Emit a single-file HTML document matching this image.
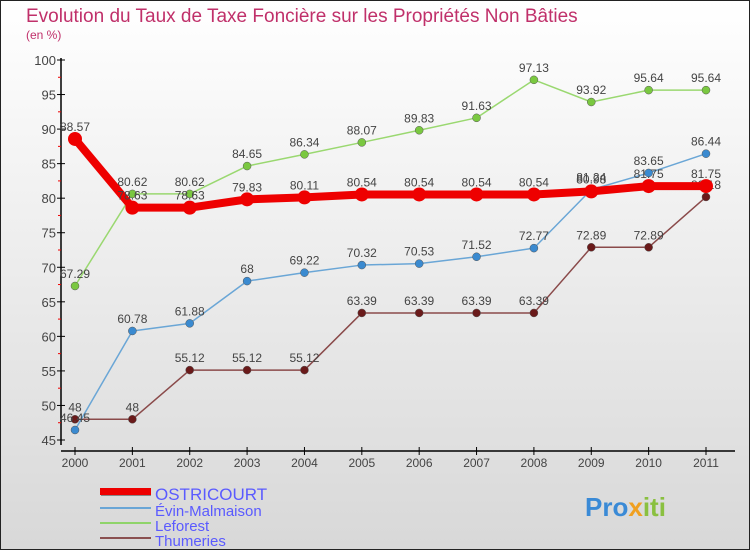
<!DOCTYPE html>
<html><head><meta charset="utf-8"><style>
body{margin:0;}
#wrap{width:750px;height:550px;position:relative;box-sizing:border-box;border:1px solid #222;background:linear-gradient(#ffffff,#d8d8d8);font-family:"Liberation Sans",sans-serif;overflow:hidden}
</style></head><body>
<div id="wrap">
<svg id="c" width="750" height="550" style="position:absolute;left:-1px;top:-1px">
<text x="26" y="22" font-size="19" fill="#c0306a">Evolution du Taux de Taxe Foncière sur les Propriétés Non Bâties</text>
<text x="26" y="39" font-size="12" fill="#c0306a">(en %)</text>
<g id="axes"></g><g id="series"></g>
<g id="legend">
<rect x="101" y="489" width="50" height="7" fill="#888"/>
<rect x="100" y="488" width="51" height="7" fill="#e00"/>
<text x="155" y="500" font-size="17" fill="#5a5aff">OSTRICOURT</text>
<line x1="100" y1="508" x2="151" y2="508" stroke="#6aa6d6" stroke-width="2"/>
<text x="155" y="516" font-size="15" fill="#5a5aff">Évin-Malmaison</text>
<line x1="100" y1="523" x2="151" y2="523" stroke="#8fd46a" stroke-width="2"/>
<text x="155" y="531" font-size="15" fill="#5a5aff">Leforest</text>
<line x1="100" y1="538" x2="151" y2="538" stroke="#8a5050" stroke-width="2"/>
<text x="155" y="546" font-size="15" fill="#5a5aff">Thumeries</text>
</g>
<text x="585" y="516" font-size="26" font-weight="bold" fill="#3a8ad6">Pro<tspan fill="#f0a020">x</tspan><tspan fill="#8ac040">iti</tspan></text>
</svg>
</div>
<script>
const years=["2000","2001","2002","2003","2004","2005","2006","2007","2008","2009","2010","2011"];
const yTicks=[45,50,55,60,65,70,75,80,85,90,95,100];
const ostricourt=[88.57,78.63,78.63,79.83,80.11,80.54,80.54,80.54,80.54,80.98,81.75,81.75];
const evin=[46.45,60.78,61.88,68,69.22,70.32,70.53,71.52,72.77,81.24,83.65,86.44];
const leforest=[67.29,80.62,80.62,84.65,86.34,88.07,89.83,91.63,97.13,93.92,95.64,95.64];
const thumeries=[48,48,55.12,55.12,55.12,63.39,63.39,63.39,63.39,72.89,72.89,80.18];
const NS="http://www.w3.org/2000/svg";
const X=i=>75+i*(706-75)/11, Y=v=>60+(100-v)*380/55;
function mk(t,a,p){const e=document.createElementNS(NS,t);for(const k in a)e.setAttribute(k,a[k]);p.appendChild(e);return e;}
const ax=document.getElementById('axes'), sg=document.getElementById('series');
let l=mk('line',{x1:61,y1:58,x2:61,y2:445,stroke:'#000','stroke-width':1.5},ax);


l=mk('line',{x1:61,y1:451,x2:735,y2:451,stroke:'#000','stroke-width':1.5},ax);


yTicks.forEach((v,i)=>{
 mk('line',{x1:57,y1:Y(v),x2:65,y2:Y(v),stroke:'#000'},ax);
 if(i<yTicks.length-1) mk('line',{x1:58,y1:Y(v+2.5),x2:61,y2:Y(v+2.5),stroke:'#e00'},ax);
 const t=mk('text',{x:56,y:Y(v)+5,'text-anchor':'end','font-size':13,fill:'#444'},ax);t.textContent=v;
 
 
});
years.forEach((y,i)=>{
 mk('line',{x1:X(i),y1:447,x2:X(i),y2:455,stroke:'#000'},ax);
 const t=mk('text',{x:X(i),y:467,'text-anchor':'middle','font-size':12,fill:'#444'},ax);t.textContent=y;
 
 
});
function series(data,color,w,r,dot,name){
 const g=mk('g',{},sg);
 
 
 mk('polyline',{points:data.map((v,i)=>X(i)+','+Y(v)).join(' '),fill:'none',stroke:color,'stroke-width':w,'stroke-linejoin':'round'},g);
 data.forEach((v,i)=>{
  const c=mk('circle',{cx:X(i),cy:Y(v),r:r,fill:dot,stroke:color==dot?'none':'#555','stroke-width':0.5},g);
  
  
  const t=mk('text',{x:X(i),y:Y(v)-8,'text-anchor':'middle','font-size':12,fill:'#444'},g);t.textContent=v;
  
  
 });
}
series(thumeries,'#8a4a4a',1.5,4,'#6a1a1a','thumeries');
series(leforest,'#9ad870',1.5,4,'#7ac840','leforest');
series(evin,'#6aa6d6',1.5,4,'#3a8ad0','evin');
series(ostricourt,'#ee0000',8,7,'#ee0000','ostricourt');
</script>
</body></html>
